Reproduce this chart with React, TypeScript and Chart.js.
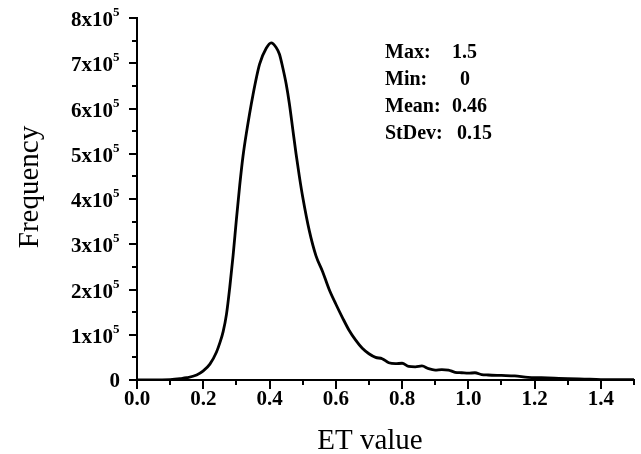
import React, { useEffect, useRef } from 'react';
import { Chart, registerables } from 'chart.js';

Chart.register(...registerables);

// ET value (x) and frequency (y)
const etValues = [
  0.0, 0.05, 0.1, 0.13, 0.15, 0.18, 0.2, 0.22, 0.24, 0.25, 0.26, 0.27, 0.28, 0.29, 0.3,
  0.31, 0.32, 0.33, 0.35, 0.37, 0.39, 0.405, 0.42, 0.43, 0.44, 0.45, 0.46, 0.47, 0.48,
  0.49, 0.5, 0.52, 0.54, 0.56, 0.58, 0.6, 0.62, 0.64, 0.66, 0.68, 0.7, 0.72, 0.74,
  0.76, 0.78, 0.8, 0.82, 0.84, 0.86, 0.88, 0.9, 0.92, 0.94, 0.96, 0.98, 1.0, 1.02,
  1.04, 1.06, 1.1, 1.14, 1.18, 1.22, 1.26, 1.3, 1.35, 1.4, 1.5,
];
const frequencies = [
  0, 0, 1000, 3000, 5000, 11000, 20000, 35000, 62000, 82000, 107000, 145000, 205000,
  275000, 355000, 430000, 495000, 545000, 630000, 698000, 733000, 745000, 735000,
  720000, 690000, 655000, 610000, 555000, 500000, 450000, 405000, 330000, 275000,
  240000, 200000, 168000, 138000, 110000, 88000, 70000, 58000, 50000, 47000, 38000,
  36000, 37000, 30000, 29000, 31000, 25000, 22000, 23000, 22000, 17000, 16000, 15000,
  16000, 12000, 11000, 10000, 9000, 6000, 5000, 4000, 3000, 2000, 1000, 500,
];

const xMin = 0;
const xMax = 1.5;
const xStep = 0.1;
const yMin = 0;
const yMax = 800000;
const yStep = 50000;

const xTitle = 'ET value';
const yTitle = 'Frequency';
const statLabels = ['Max:', 'Min:', 'Mean:', 'StDev:'];
const statValues = ['1.5', '0', '0.46', '0.15'];
const statValueX = [452, 460, 452, 457];

const SERIF = "'Liberation Serif', 'Times New Roman', serif";

const isMajorX = (v: number) => Math.round(v * 10) % 2 === 0;
const isMajorY = (v: number) => Math.round(v / 50000) % 2 === 0;

const textPlugin = {
  id: 'customText',
  afterDraw(chart: any) {
    const ctx = chart.ctx as CanvasRenderingContext2D;
    const xs = chart.scales.x;
    const ys = chart.scales.y;
    const area = chart.chartArea;
    ctx.save();
    ctx.strokeStyle = '#000';
    ctx.fillStyle = '#000';
    ctx.lineWidth = 2;

    // minor ticks
    xs.ticks.forEach((t: any) => {
      if (!isMajorX(t.value)) {
        const px = Math.round(xs.getPixelForValue(t.value));
        ctx.beginPath();
        ctx.moveTo(px, area.bottom);
        ctx.lineTo(px, area.bottom + 5);
        ctx.stroke();
      }
    });
    ys.ticks.forEach((t: any) => {
      if (!isMajorY(t.value)) {
        const py = Math.round(ys.getPixelForValue(t.value));
        ctx.beginPath();
        ctx.moveTo(area.left - 5, py);
        ctx.lineTo(area.left, py);
        ctx.stroke();
      }
    });

    // x tick labels
    ctx.font = `bold 21px ${SERIF}`;
    ctx.textAlign = 'center';
    ctx.textBaseline = 'middle';
    xs.ticks.forEach((t: any) => {
      if (isMajorX(t.value)) {
        const px = xs.getPixelForValue(t.value);
        ctx.fillText((Math.round(t.value * 10) / 10).toFixed(1), px, 400);
      }
    });

    // y tick labels with superscript exponent
    ys.ticks.forEach((t: any) => {
      if (!isMajorY(t.value)) return;
      const py = ys.getPixelForValue(t.value);
      const n = Math.round(t.value / 100000);
      ctx.textAlign = 'right';
      ctx.textBaseline = 'alphabetic';
      if (n === 0) {
        ctx.font = `bold 21px ${SERIF}`;
        ctx.fillText('0', 120, py + 7);
      } else {
        ctx.font = `bold 21px ${SERIF}`;
        ctx.fillText(`${n}x10`, 113, py + 8);
        ctx.font = `bold 13px ${SERIF}`;
        ctx.textAlign = 'left';
        ctx.fillText('5', 113, py - 2);
      }
    });

    // axis titles
    ctx.font = `29px ${SERIF}`;
    ctx.textAlign = 'center';
    ctx.textBaseline = 'alphabetic';
    ctx.fillText(xTitle, 370, 449);
    ctx.save();
    ctx.translate(38, 187);
    ctx.rotate(-Math.PI / 2);
    ctx.fillText(yTitle, 0, 0);
    ctx.restore();

    // statistics
    ctx.font = `bold 20px ${SERIF}`;
    ctx.textAlign = 'left';
    statLabels.forEach((lab, i) => {
      const y = 57.5 + i * 27;
      ctx.fillText(lab, 385, y);
      ctx.fillText(statValues[i], statValueX[i], y);
    });
    ctx.restore();
  },
};

export default function App() {
  const canvasRef = useRef<HTMLCanvasElement | null>(null);

  useEffect(() => {
    document.body.style.margin = '0';
    const canvas = canvasRef.current;
    if (!canvas) return;
    const chart = new Chart(canvas, {
      type: 'line',
      data: {
        datasets: [
          {
            data: etValues.map((x, i) => ({ x, y: frequencies[i] })),
            borderColor: '#000',
            borderWidth: 2.8,
            pointRadius: 0,
            cubicInterpolationMode: 'monotone',
            fill: false,
          },
        ],
      },
      options: {
        animation: false,
        responsive: false,
        devicePixelRatio: 1,
        layout: { padding: { top: 18, right: 7, left: 0, bottom: 0 } },
        plugins: { legend: { display: false }, tooltip: { enabled: false } },
        scales: {
          x: {
            type: 'linear',
            min: xMin,
            max: xMax,
            ticks: { stepSize: xStep, display: false },
            grid: {
              drawOnChartArea: false,
              drawTicks: true,
              tickLength: 9,
              lineWidth: 2,
              color: (c: any) => (c.tick && isMajorX(c.tick.value) ? '#000' : 'rgba(0,0,0,0)'),
            },
            border: { display: true, color: '#000', width: 2 },
            afterFit: (s: any) => {
              s.height = 74;
            },
          },
          y: {
            type: 'linear',
            min: yMin,
            max: yMax,
            ticks: { stepSize: yStep, display: false },
            grid: {
              drawOnChartArea: false,
              drawTicks: true,
              tickLength: 8,
              lineWidth: 2,
              color: (c: any) => (c.tick && isMajorY(c.tick.value) ? '#000' : 'rgba(0,0,0,0)'),
            },
            border: { display: true, color: '#000', width: 2 },
            afterFit: (s: any) => {
              s.width = 137;
            },
          },
        },
      },
      plugins: [textPlugin],
    });
    return () => chart.destroy();
  }, []);

  return (
    <div style={{ width: 641, height: 454 }}>
      <canvas ref={canvasRef} width={641} height={454} style={{ display: 'block' }} />
    </div>
  );
}
